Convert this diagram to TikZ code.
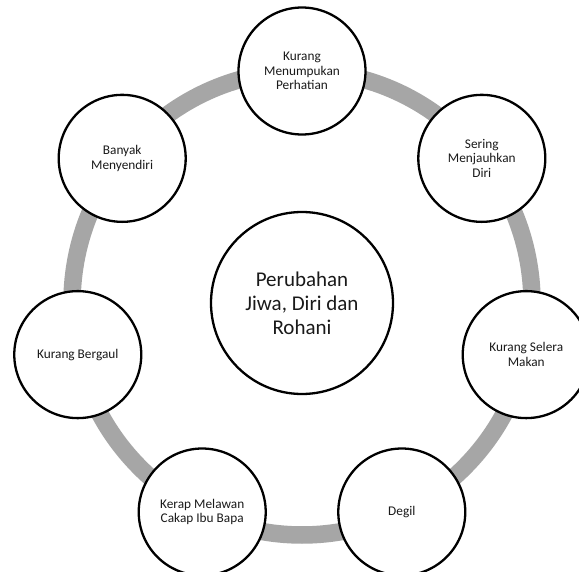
\documentclass[tikz,border=0pt]{standalone}
\usepackage{fontspec}
\setmainfont{Carlito}
\usetikzlibrary{calc}
\definecolor{ringgray}{HTML}{A6A6A6}
\definecolor{txt}{HTML}{1A1A1A}
\tikzset{
  sat/.style={circle, draw=black, line width=2.3pt, fill=white, minimum size=127pt, inner sep=0pt,
    align=center, text=txt, font=\fontsize{13.3}{14.5}\selectfont},
  hub/.style={circle, draw=black, line width=2.3pt, fill=white, minimum size=182pt, inner sep=0pt,
    align=center, text=txt, font=\fontsize{21}{24}\selectfont},
  ring/.style={draw=ringgray, line width=17.5pt}
}
\begin{document}
\begin{tikzpicture}[x=1pt,y=1pt]
\useasboundingbox (0,0) rectangle (579,-572);
\clip (0,0) rectangle (579,-572);
\fill[white] (0,0) rectangle (579,-572);
\coordinate (ctr) at (302,-303);
\draw[ring] (ctr) ellipse [x radius=230, y radius=232];
\node[hub] (c) at (ctr) {Perubahan\\Jiwa, Diri dan\\Rohani};
\foreach \k/\t in {0/{Kurang\\Menumpukan\\Perhatian},
                   1/{Sering\\Menjauhkan\\Diri},
                   2/{Kurang Selera\\Makan},
                   3/{Degil},
                   4/{Kerap Melawan\\Cakap Ibu Bapa},
                   5/{Kurang Bergaul},
                   6/{Banyak\\Menyendiri}}{
  \pgfmathsetmacro{\a}{90-\k*360/7}
  \node[sat] (n\k) at ($(ctr)+({230*cos(\a)},{232*sin(\a)})$) {\t};
}
\end{tikzpicture}
\end{document}
